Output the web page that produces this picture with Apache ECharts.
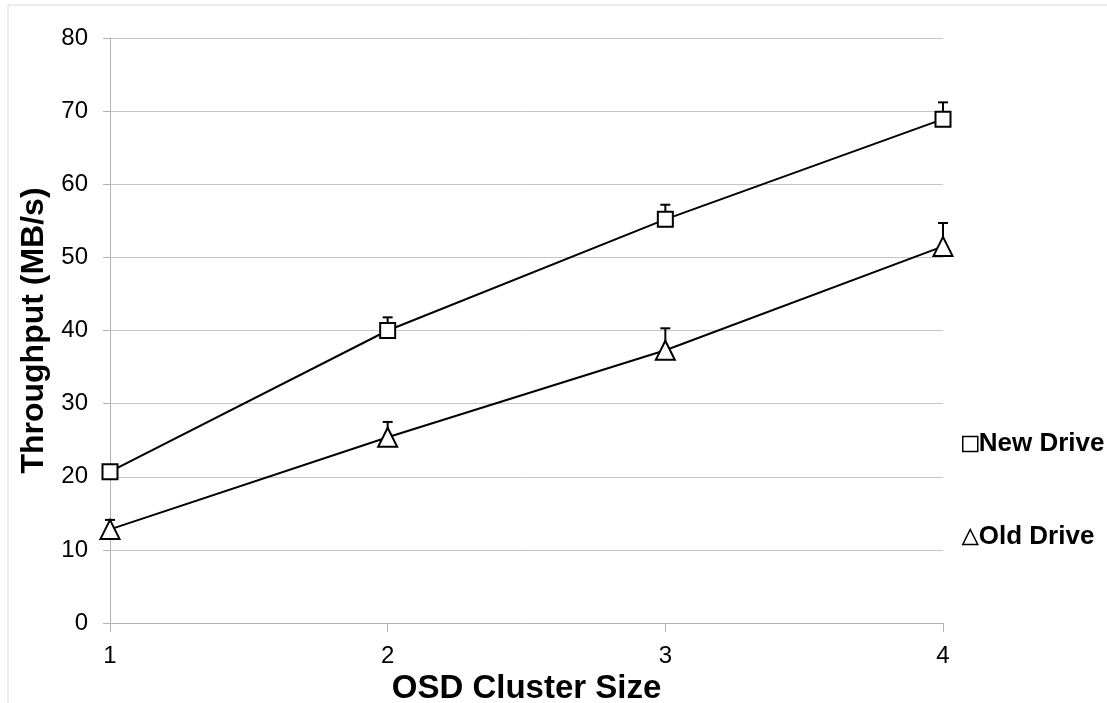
<!DOCTYPE html>
<html>
<head>
<meta charset="utf-8">
<script src="https://cdn.jsdelivr.net/npm/echarts@6/dist/echarts.min.js"></script>
<style>html,body{margin:0;padding:0;background:#fff;}#c{width:1107px;height:703px;}</style>
</head>
<body>
<div id="c"></div>
<script>
const categories = ['1', '2', '3', '4'];
const newDrive = [20.7, 40.0, 55.2, 68.9];
const newDriveErr = [0.6, 1.8, 2.0, 2.3];
const oldDrive = [12.8, 25.4, 37.3, 51.5];
const oldDriveErr = [1.3, 2.1, 3.0, 3.2];
const yTicks = { min: 0, max: 80, interval: 10 };

const chart = echarts.init(document.getElementById('c'));
const font = 'Liberation Sans, Arial, sans-serif';

function errSeries(vals, errs) {
  return {
    type: 'custom',
    z: 1,
    silent: true,
    data: vals.map((v, i) => [i, v, v + errs[i]]),
    renderItem: function (params, api) {
      const p0 = api.coord([api.value(0), api.value(1)]);
      const p1 = api.coord([api.value(0), api.value(2)]);
      const hw = 5;
      return {
        type: 'group',
        children: [
          { type: 'line', shape: { x1: p0[0], y1: p0[1], x2: p1[0], y2: p1[1] }, style: { stroke: '#000', lineWidth: 2 } },
          { type: 'line', shape: { x1: p1[0] - hw, y1: p1[1], x2: p1[0] + hw, y2: p1[1] }, style: { stroke: '#000', lineWidth: 2 } }
        ]
      };
    }
  };
}

chart.setOption({
  animation: false,
  backgroundColor: '#fff',
  graphic: [{
    type: 'rect', shape: { x: 8, y: 5, width: 1200, height: 800 },
    style: { fill: 'none', stroke: '#d9d9d9', lineWidth: 1 }, silent: true, z: -10
  }],
  grid: { left: 110, right: 164, top: 38, bottom: 80, containLabel: false, outerBoundsMode: 'none' },
  legend: {
    orient: 'vertical', left: 957, top: 426, itemGap: 67,
    itemWidth: 15, itemHeight: 15, itemStyle: { borderWidth: 1.5 },
    textStyle: { fontFamily: font, fontSize: 26, fontWeight: 'bold', color: '#000', padding: [0, 0, 0, -4] },
    data: [
      { name: 'New Drive', icon: 'rect', itemStyle: { color: '#fff', borderColor: '#000', borderWidth: 1.5 } },
      { name: 'Old Drive', icon: 'triangle', itemStyle: { color: '#fff', borderColor: '#000', borderWidth: 1.5 } }
    ]
  },
  xAxis: {
    type: 'category', data: categories, boundaryGap: false,
    name: 'OSD Cluster Size', nameLocation: 'middle', nameGap: 42,
    nameTextStyle: { fontFamily: font, fontSize: 33, fontWeight: 'bold', color: '#000' },
    axisLine: { lineStyle: { color: '#b3b3b3', width: 1 } },
    axisTick: { show: true, length: 9, alignWithLabel: true, lineStyle: { color: '#b3b3b3' } },
    axisLabel: { fontFamily: font, fontSize: 24, color: '#000', margin: 21 },
    splitLine: { show: false }
  },
  yAxis: {
    type: 'value', min: yTicks.min, max: yTicks.max, interval: yTicks.interval,
    name: 'Throughput (MB/s)', nameLocation: 'middle', nameGap: 60,
    nameTextStyle: { fontFamily: font, fontSize: 32, fontWeight: 'bold', color: '#000' },
    axisLine: { show: true, lineStyle: { color: '#b3b3b3', width: 1 } },
    axisTick: { show: true, length: 7, lineStyle: { color: '#b3b3b3' } },
    axisLabel: { fontFamily: font, fontSize: 24, color: '#000', margin: 22 },
    splitLine: { show: true, lineStyle: { color: '#c6c6c6', width: 1 } }
  },
  series: [
    errSeries(newDrive, newDriveErr),
    errSeries(oldDrive, oldDriveErr),
    {
      name: 'New Drive', type: 'line', data: newDrive, z: 3,
      symbol: 'rect', symbolSize: 15,
      lineStyle: { color: '#000', width: 2 },
      itemStyle: { color: '#fff', borderColor: '#000', borderWidth: 2 }
    },
    {
      name: 'Old Drive', type: 'line', data: oldDrive, z: 3,
      symbol: 'triangle', symbolSize: 19,
      lineStyle: { color: '#000', width: 2 },
      itemStyle: { color: '#fff', borderColor: '#000', borderWidth: 2 }
    }
  ]
});
</script>
</body>
</html>
